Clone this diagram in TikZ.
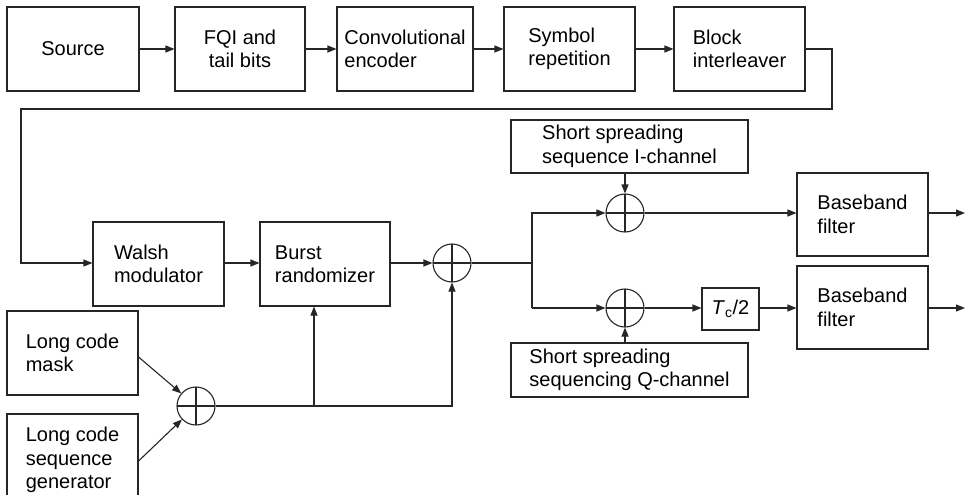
\documentclass[tikz,border=0pt]{standalone}
\usepackage{fontspec}
\setmainfont{Liberation Sans}
\usetikzlibrary{arrows.meta,calc}
\begin{document}
\begin{tikzpicture}[x=1pt,y=-1pt,
  line width=1.1pt, draw=black!85,
  blk/.style={draw, inner sep=0pt, align=left, font=\fontsize{20}{23.5}\selectfont},
  blkc/.style={blk, align=center},
  xorc/.style={draw, circle, minimum size=38pt, inner sep=0pt,
    path picture={\draw (path picture bounding box.north) -- (path picture bounding box.south)
      (path picture bounding box.west) -- (path picture bounding box.east);}},
  arr/.style={-{Triangle[length=9pt,width=7pt]}},
  thick line/.style={line width=1.8pt}
]
\clip (0,0) rectangle (966,495);
\fill[white] (0,0) rectangle (966,495);
% top row
\node[blkc, minimum width=132pt, minimum height=84pt] (src) at (73,49) {Source};
\node[blkc, minimum width=130pt, minimum height=84pt] (fqi) at (240,49) {FQI and\\tail bits};
\node[blk, minimum width=136pt, minimum height=84pt] (conv) at (405,49) {Convolutional\\encoder};
\node[blk, minimum width=131pt, minimum height=84pt] (rep) at (569.5,49) {Symbol\\repetition};
\node[blk, minimum width=131pt, minimum height=84pt] (intl) at (739.5,49) {Block\\interleaver};
% middle row
\node[blk, minimum width=131pt, minimum height=84pt] (walsh) at (158.5,264) {Walsh\\modulator};
\node[blk, minimum width=130pt, minimum height=84pt] (burst) at (325,264) {Burst\\randomizer};
\node[xorc] (x1) at (452,263) {};
% long code
\node[blk, minimum width=131pt, minimum height=84pt] (lcm) at (72.5,353) {Long code\\mask};
\node[blk, minimum width=131pt, minimum height=92pt] (lcg) at (72.5,460) {Long code\\sequence\\generator};
\node[xorc] (x2) at (196,406) {};
% right part
\node[blk, minimum width=237pt, minimum height=53pt] (ssi) at (629.5,146.5) {Short spreading\\sequence I-channel};
\node[xorc] (xi) at (625,213) {};
\node[xorc] (xq) at (625,308) {};
\node[blk, minimum width=237pt, minimum height=54pt] (ssq) at (629.5,370) {Short spreading\\sequencing Q-channel};
\node[blkc, minimum width=57pt, minimum height=42pt] (tc) at (730.5,309) {\textit{T}\textsubscript{c}/2};
\node[blk, minimum width=131pt, minimum height=83pt] (bbi) at (862.5,214.5) {Baseband\\filter};
\node[blk, minimum width=131pt, minimum height=83pt] (bbq) at (862.5,307.5) {Baseband\\filter};
% connectors top row
\draw[arr] (src) -- (fqi);
\draw[arr] (fqi) -- (conv);
\draw[arr] (conv) -- (rep);
\draw[arr] (rep) -- (intl);
\coordinate (t1) at (832,109);
\coordinate (t2) at (21,109);
\draw[arr] (intl.east) -| (t1) -- (t2) |- (walsh.west |- x1.west);
% middle
\draw[arr] (walsh.east |- x1.west) -- (burst.west |- x1.west);
\draw[arr] (burst.east |- x1.west) -- (x1.west);
% long code
\draw[arr] (lcm.east |- 0,357) -- (x2);
\draw[arr] (lcg.east |- 0,461) -- (x2);
\draw[arr] (x2.east) -| (x1.south);
\coordinate (j1) at (314,406);
\draw[arr] (j1) -- (j1 |- burst.south);
% split
\coordinate (j2) at (532,263);
\draw[thick line] (x1.east) -- (j2);
\draw[thick line] ($(j2)+(0,-0.5)$) -- (j2 |- xq.west);
\draw[arr] (j2) |- (xi.west);
\draw[arr] (j2 |- xq.west) -- (xq.west);
\draw[arr] (ssi.south -| xi.north) -- (xi.north);
\draw[arr] (ssq.north -| xq.south) -- (xq.south);
\draw[arr] (xi.east) -- (xi.east -| bbi.west);
\draw[arr] (xq.east) -- (tc.west |- xq.east);
\draw[arr] (tc.east |- xq.east) -- (bbq.west |- xq.east);
\coordinate (o1) at (965,213);
\coordinate (o2) at (965,308);
\draw[arr] (bbi.east |- o1) -- (o1);
\draw[arr] (bbq.east |- o2) -- (o2);
\end{tikzpicture}
\end{document}
